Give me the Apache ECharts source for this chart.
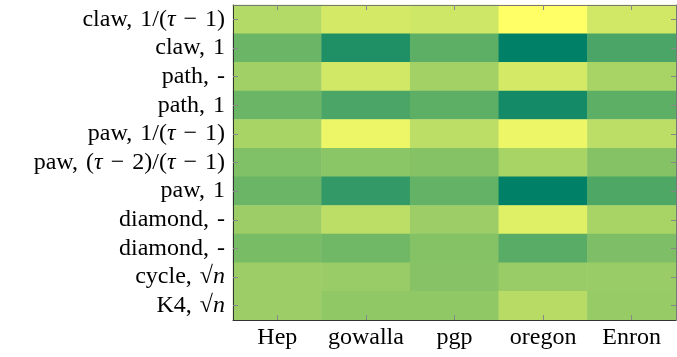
<!DOCTYPE html>
<html>
<head>
<meta charset="utf-8">
<script src="https://cdn.jsdelivr.net/npm/echarts@6/dist/echarts.min.js"></script>
<style>
  html, body { margin: 0; padding: 0; background: #fff; }
  #chart { width: 677px; height: 357px; }
</style>
</head>
<body>
<div id="chart"></div>
<script>
// datasets (columns) and motifs (rows, top to bottom)
const datasets = ['Hep', 'gowalla', 'pgp', 'oregon', 'Enron']
const motifs = [
  'claw,\u20041/({it|τ}\u2004−\u20041)',
  'claw,\u20041',
  'path,\u2004-',
  'path,\u20041',
  'paw,\u20041/({it|τ}\u2004−\u20041)',
  'paw,\u2004({it|τ}\u2004−\u20042)/({it|τ}\u2004−\u20041)',
  'paw,\u20041',
  'diamond,\u2004-',
  'diamond,\u2004-',
  'cycle,\u2004√{it|n}',
  'K4,\u2004√{it|n}'
]

// normalized colour values per dataset, same order as motifs
const hep     = [0.70, 0.42, 0.63, 0.42, 0.66, 0.50, 0.42, 0.61, 0.47, 0.61, 0.61]
const gowalla = [0.83, 0.12, 0.82, 0.29, 0.93, 0.54, 0.20, 0.74, 0.44, 0.60, 0.57]
const pgp     = [0.81, 0.37, 0.64, 0.37, 0.74, 0.52, 0.39, 0.61, 0.52, 0.53, 0.57]
const oregon  = [1.00, 0.00, 0.83, 0.08, 0.93, 0.66, 0.00, 0.88, 0.35, 0.60, 0.72]
const enron   = [0.82, 0.29, 0.66, 0.37, 0.74, 0.52, 0.31, 0.66, 0.49, 0.60, 0.59]

const columns = [hep, gowalla, pgp, oregon, enron]
let data = []
columns.forEach((col, x) => {
  col.forEach((v, y) => {
    data.push([x, y, v])
  })
})

const font = 'Liberation Serif'
const size = 24
const rich = { it: { fontStyle: 'italic', fontFamily: font, fontSize: size, color: '#000' } }

const chart = echarts.init(document.getElementById('chart'))
chart.setOption({
  animation: false,
  grid: { left: 233, right: 1, top: 5, bottom: 37 },
  visualMap: {
    show: false,
    min: 0,
    max: 1,
    dimension: 2,
    inRange: { color: ['#008066', '#ffff66'] }
  },
  xAxis: [
    {
      type: 'category',
      data: datasets,
      position: 'bottom',
      axisLine: { show: true, lineStyle: { color: '#333', width: 1 } },
      axisTick: { show: true, inside: true, alignWithLabel: true, length: 5, lineStyle: { color: '#888' } },
      axisLabel: { color: '#000', fontFamily: font, fontSize: size, margin: 6, interval: 0 },
      splitLine: { show: false },
      z: 10
    },
    {
      type: 'category',
      data: datasets,
      position: 'top',
      axisLine: { show: true, lineStyle: { color: '#777', width: 1 } },
      axisTick: { show: true, inside: true, alignWithLabel: true, length: 5, lineStyle: { color: '#888' } },
      axisLabel: { show: false },
      z: 10
    }
  ],
  yAxis: [
    {
      type: 'category',
      data: motifs,
      inverse: true,
      position: 'left',
      axisLine: { show: true, lineStyle: { color: '#333', width: 1 } },
      axisTick: { show: true, inside: true, alignWithLabel: true, length: 5, lineStyle: { color: '#888' } },
      axisLabel: { color: '#000', fontFamily: font, fontSize: size, margin: 8, interval: 0, rich: rich },
      z: 10
    },
    {
      type: 'category',
      data: motifs,
      inverse: true,
      position: 'right',
      axisLine: { show: true, lineStyle: { color: '#777', width: 1 } },
      axisTick: { show: true, inside: true, alignWithLabel: true, length: 5, lineStyle: { color: '#888' } },
      axisLabel: { show: false },
      z: 10
    }
  ],
  series: [
    {
      type: 'heatmap',
      data: data,
      itemStyle: { borderWidth: 0 },
      emphasis: { disabled: true }
    }
  ]
})
</script>
</body>
</html>
